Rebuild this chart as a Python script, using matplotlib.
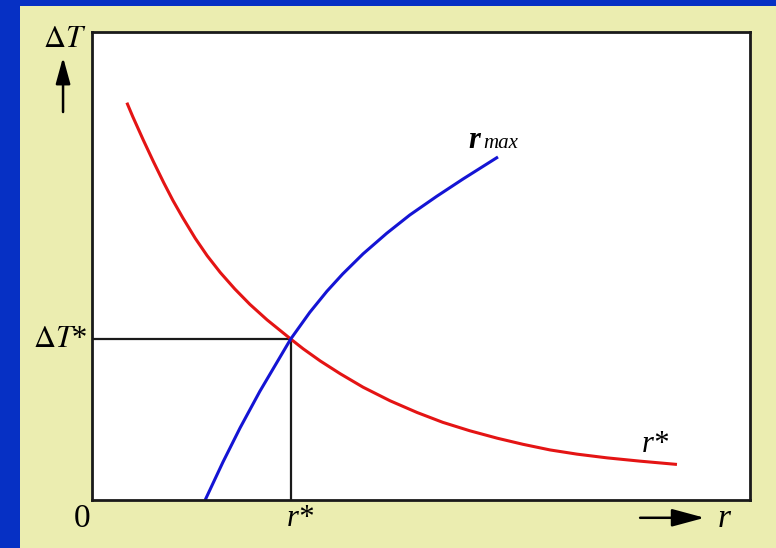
import matplotlib.pyplot as plt
from matplotlib.patches import Rectangle

plt.rcParams['font.family'] = ['Liberation Serif', 'DejaVu Serif']
plt.rcParams['mathtext.fontset'] = 'stix'

# red curve r* (optimum rate line) and blue curve r_max
red_r = [0.53, 0.62, 0.78, 0.93, 1.09, 1.23, 1.38, 1.57, 1.75, 1.95, 2.17, 2.40, 2.66,
         3.02, 3.21, 3.47, 3.77, 4.12, 4.53, 4.94, 5.33, 5.74, 6.16, 6.55, 6.96,
         7.37, 7.83, 8.33, 8.89]
red_dT = [8.49, 8.19, 7.69, 7.24, 6.78, 6.40, 6.03, 5.59, 5.22, 4.86, 4.51, 4.18, 3.85,
          3.44, 3.23, 2.97, 2.70, 2.41, 2.12, 1.87, 1.66, 1.48, 1.32, 1.19, 1.07,
          0.98, 0.90, 0.83, 0.76]
blue_r = [1.72, 1.99, 2.25, 2.55, 2.81, 3.02, 3.31, 3.57, 3.81, 4.12, 4.48, 4.83,
          5.24, 5.64, 6.17]
blue_dT = [0.00, 0.81, 1.54, 2.32, 2.94, 3.44, 4.01, 4.46, 4.83, 5.26, 5.70, 6.09,
           6.49, 6.86, 7.33]
r_star = 3.02
dT_star = 3.44

W, H = 776, 548
fig = plt.figure(figsize=(W / 100, H / 100), dpi=100)
fig.patch.set_facecolor('#0630c4')
fig.add_artist(Rectangle((20 / W, 0), (W - 20) / W, (H - 6) / H,
                         transform=fig.transFigure, facecolor='#ebedb0',
                         edgecolor='none', zorder=0))

ax = fig.add_axes([92 / W, 48 / H, 658 / W, 468 / H])
ax.set_facecolor('white')
ax.set_xlim(0, 10)
ax.set_ylim(0, 10)
ax.set_xticks([])
ax.set_yticks([])
for s in ax.spines.values():
    s.set_linewidth(2.0)
    s.set_color('#1a1a1a')

ax.plot(red_r, red_dT, color='#e41414', lw=2.2, solid_capstyle='butt',
        solid_joinstyle='round')
ax.plot(blue_r, blue_dT, color='#1414d4', lw=2.2, solid_capstyle='butt',
        solid_joinstyle='round')
ax.plot([0, r_star], [dT_star, dT_star], color='#1a1a1a', lw=1.6, zorder=1)
ax.plot([r_star, r_star], [0, dT_star], color='#1a1a1a', lw=1.6, zorder=1)

# curve labels
ax.text(5.72, 7.52, 'r', fontsize=22, fontweight='bold', style='italic', va='baseline')
ax.text(5.95, 7.52, 'max', fontsize=15, style='italic', va='baseline')
ax.text(8.35, 1.03, 'r*', fontsize=22, style='italic', va='baseline')

# axis annotations
ax.text(-0.041, 0.985, r'$\Delta T$', transform=ax.transAxes, fontsize=22,
        ha='center', va='center')
ax.annotate('', xy=(-0.044, 0.946), xytext=(-0.044, 0.829),
            xycoords='axes fraction', textcoords='axes fraction',
            arrowprops=dict(arrowstyle='-|>,head_length=0.8,head_width=0.22',
                            mutation_scale=20, color='black', lw=1.8,
                            shrinkA=0, shrinkB=0))
ax.text(-0.006, dT_star, r'$\Delta T$*', transform=ax.get_yaxis_transform(),
        fontsize=22, ha='right', va='center')
ax.text(-0.015, -0.04, '0', transform=ax.transAxes, fontsize=24,
        ha='center', va='center')
ax.text(r_star + 0.15, -0.04, 'r*', transform=ax.get_xaxis_transform(),
        fontsize=22, style='italic', ha='center', va='center')
ax.annotate('', xy=(0.931, -0.038), xytext=(0.833, -0.038),
            xycoords='axes fraction', textcoords='axes fraction',
            arrowprops=dict(arrowstyle='-|>,head_length=1.0,head_width=0.27',
                            mutation_scale=20, color='black', lw=1.8,
                            shrinkA=0, shrinkB=0))
ax.text(0.960, -0.04, 'r', transform=ax.transAxes, fontsize=24,
        style='italic', ha='center', va='center')

fig.savefig('out.png', dpi=100, facecolor=fig.get_facecolor())
